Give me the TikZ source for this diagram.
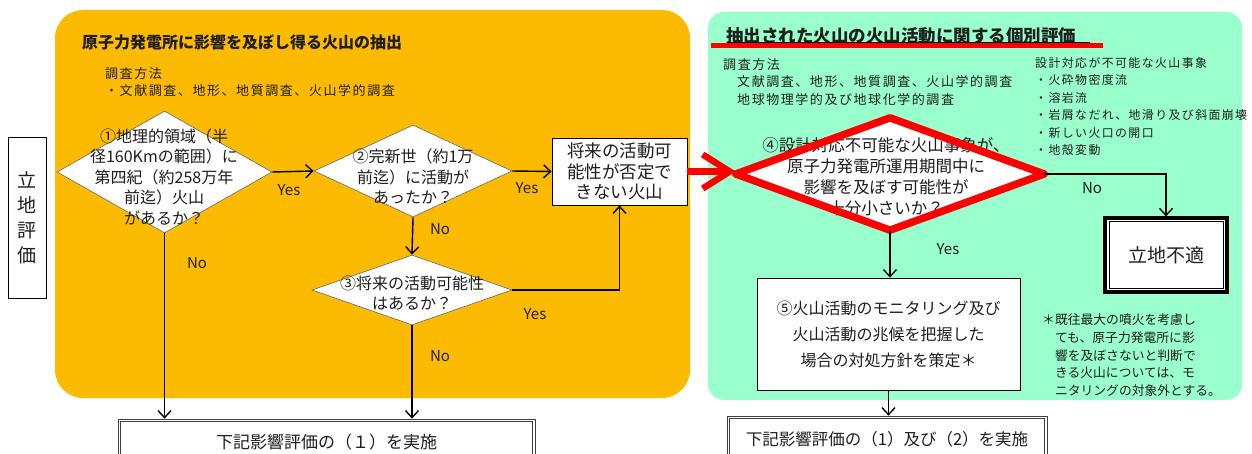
\documentclass[tikz,border=0pt]{standalone}
\usepackage{fontspec}
\setmainfont{Noto Sans CJK JP}
\newfontfamily\jp{Noto Sans CJK JP}
\newfontfamily\jpsp[LetterSpace=12]{Noto Sans CJK JP}
\usetikzlibrary{shapes.geometric,arrows.meta,calc}
\definecolor{orangeP}{RGB}{252,187,0}
\definecolor{mintP}{RGB}{153,255,204}
\definecolor{txt}{RGB}{30,30,30}
\begin{document}
\begin{tikzpicture}[x=1pt,y=-1pt,
  every node/.style={inner sep=0pt, text=txt},
  arr/.style={draw=black, line width=1.4pt, -{Straight Barb[length=7pt,width=13pt]}},
  lbl/.style={font=\jp\fontsize{15}{15}\selectfont},
  dia/.style={diamond, fill=white, draw=black!60, line width=0.6pt, inner sep=0pt},
  box/.style={rectangle, fill=white, draw=black, line width=0.8pt},
  dbox/.style={rectangle, fill=white, draw=black!75, line width=0.7pt},
  inner/.style={draw=black!75, line width=0.7pt},
  small/.style={font=\jpsp\fontsize{13}{17}\selectfont, anchor=west},
  dtext/.style={font=\jp\fontsize{16}{20.5}\selectfont, align=center},
]
\useasboundingbox (0,0) rectangle (1252,454);
\fill[white] (0,0) rectangle (1252,454);
% panels
\fill[orangeP, rounded corners=28pt] (55,10) rectangle (690,398);
\fill[mintP, rounded corners=16pt] (708,12) rectangle (1242,400);

% left label
\node[box, align=center, font=\jp\fontsize{19}{25}\selectfont, minimum width=38pt, minimum height=161pt] (loc) at (27,217.5) {立\\地\\評\\価};

% orange panel texts
\node[font=\jp\bfseries\fontsize{16}{16}\selectfont, anchor=west] (t1) at (82,42) {原子力発電所に影響を及ぼし得る火山の抽出};
\node[small] (m1) at (105,74) {調査方法};
\node[small] (m2) at (105,91) {・文献調査、地形、地質調査、火山学的調査};

% diamond 1
\node[dia, minimum width=215pt, minimum height=122pt] (d1) at (164.5,172) {};
\node[dtext] (d1t) at (164,177) {①地理的領域（半\\径160Kmの範囲）に\\第四紀（約258万年\\前迄）火山\\があるか？};
% diamond 2
\node[dia, minimum width=198pt, minimum height=92pt] (d2) at (413,171) {};
\node[dtext] (d2t) at (413,177) {②完新世（約1万\\前迄）に活動が\\あったか？};
% box F
\node[box, minimum width=135pt, minimum height=67pt, align=center, font=\jp\fontsize{17.5}{20.5}\selectfont] (f) at (619.5,171.5) {将来の活動可\\能性が否定で\\きない火山};
% diamond 3
\node[dia, minimum width=200pt, minimum height=70pt] (d3) at (412,290) {};
\node[dtext] (d3t) at (412,293) {③将来の活動可能性\\はあるか？};

% bottom boxes
\node[dbox, minimum width=417pt, minimum height=46pt, font=\jp\fontsize{17}{17}\selectfont] (bl) at (326.5,442) {下記影響評価の（１）を実施};
\draw[inner] ($(bl.north west)+(2.6,2.6)$) rectangle ($(bl.south east)+(-2.6,-2.6)$);
\node[dbox, minimum width=320pt, minimum height=46pt, font=\jp\fontsize{16.5}{17}\selectfont] (br) at (887,439) {下記影響評価の（1）及び（2）を実施};
\draw[inner] ($(br.north west)+(2.6,2.6)$) rectangle ($(br.south east)+(-2.6,-2.6)$);

% orange arrows
\draw[arr] (d1.east) -- (d2.west);
\draw[arr] (d2.east) -- (f.west);
\draw[arr] (d2.south) -- (d3.north);
\draw[arr] (d1.south) -- (d1.south |- bl.north);
\draw[arr] (d3.south) -- (d3.south |- bl.north);
\draw[arr] (d3.east) -- (d3.east -| f.south) -- (f.south);
\node[lbl] (y1) at (289,190) {Yes};
\node[lbl] (y2) at (527,188) {Yes};
\node[lbl] (y3) at (535,314) {Yes};
\node[lbl] (n1) at (197,263) {No};
\node[lbl] (n2) at (440,229) {No};
\node[lbl] (n3) at (440,356) {No};

% green panel texts
\node[font=\jp\bfseries\fontsize{17.5}{17.5}\selectfont, anchor=west] (t2) at (726,36) {抽出された火山の火山活動に関する個別評価};
\draw[black, line width=0.8pt] (727,42) -- (1090,42);
\draw[red, line width=5.5pt] (711,45.5) -- (1103,45.5);
\node[small] (g1) at (723,65) {調査方法};
\node[small] (g2) at (737,82) {文献調査、地形、地質調査、火山学的調査};
\node[small] (g3) at (737,100) {地球物理学的及び地球化学的調査};
\node[small, font=\jpsp\fontsize{11.9}{17.5}\selectfont, align=left, anchor=north west] (ev) at (1035,57) {設計対応が不可能な火山事象\\・火砕物密度流\\・溶岩流\\・岩屑なだれ、地滑り及び斜面崩壊\\・新しい火口の開口\\・地殻変動};

% diamond 4
\node[diamond, fill=white, inner sep=0pt, minimum width=308pt, minimum height=112pt] (d4) at (890,174) {};
\node[font=\jp\fontsize{16.5}{21}\selectfont, align=center] (d4t) at (886,177) {④設計対応不可能な火山事象が、\\原子力発電所運用期間中に\\影響を及ぼす可能性が\\十分小さいか？};
\draw[red, line width=7.5pt, line join=round] (d4.north) -- (d4.east) -- (d4.south) -- (d4.west) -- cycle;

% box 5
\node[box, minimum width=263pt, minimum height=112pt, align=center, font=\jp\fontsize{16}{26}\selectfont] (b5) at (888.5,334) {⑤火山活動のモニタリング及び\\火山活動の兆候を把握した\\場合の対処方針を策定＊};

% unsuitable box
\node[rectangle, fill=white, draw=black, line width=3.2pt, minimum width=122pt, minimum height=74pt, font=\jp\fontsize{19}{19}\selectfont] (nf) at (1166,255) {立地不適};
\draw[black, line width=0.8pt] ($(nf.north west)+(5.5,5.5)$) rectangle ($(nf.south east)+(-5.5,-5.5)$);

% note
\node[font=\jp\fontsize{12.8}{17.6}\selectfont, align=left, anchor=north west] (note) at (1042,314) {＊既往最大の噴火を考慮し\\\hspace*{12.8pt}ても、原子力発電所に影\\\hspace*{12.8pt}響を及ぼさないと判断で\\\hspace*{12.8pt}きる火山については、モ\\\hspace*{12.8pt}ニタリングの対象外とする。};

% green arrows
\draw[red, line width=6.5pt, -{Straight Barb[length=27pt,width=34pt]}] (f.east) -- (f.east -| d4.west);
\draw[arr] (d4.east) -- (d4.east -| nf.north) -- (nf.north);
\draw[arr] (d4.south) -- (d4.south |- b5.north);
\draw[arr] (b5.south) -- (b5.south |- br.north);
\node[lbl] (y4) at (948,249) {Yes};
\node[lbl] (n4) at (1092,188) {No};
\end{tikzpicture}
\end{document}
